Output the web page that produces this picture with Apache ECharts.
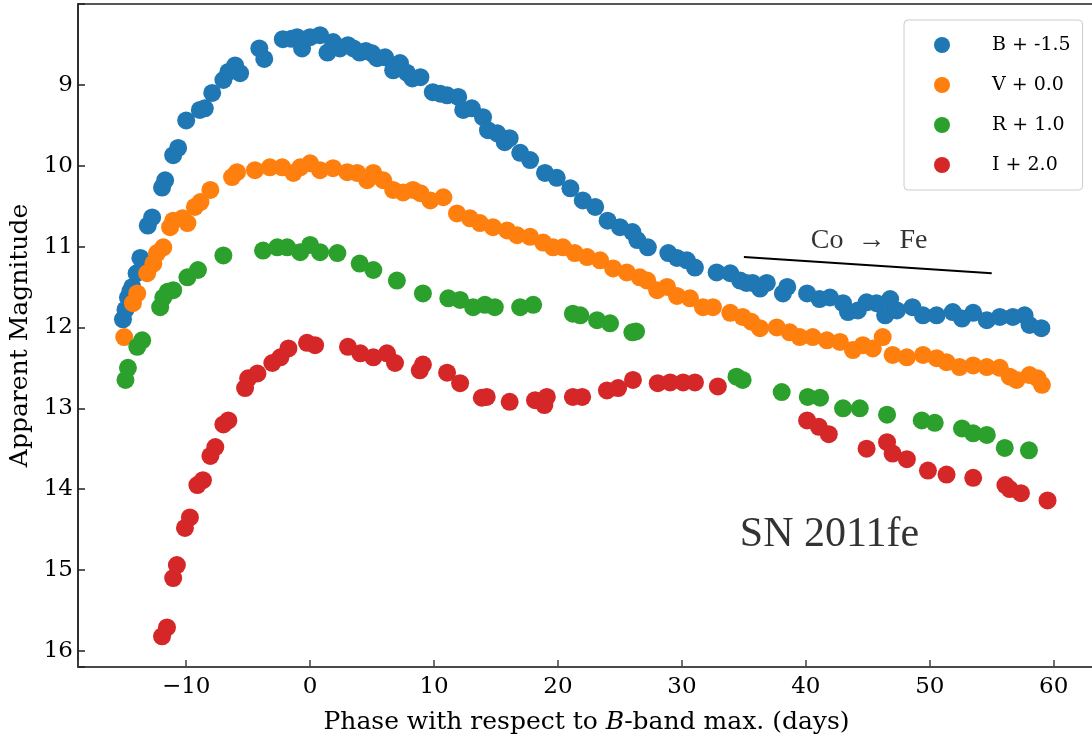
<!DOCTYPE html>
<html>
<head>
<meta charset="utf-8">
<script src="https://cdn.jsdelivr.net/npm/echarts@6/dist/echarts.min.js"></script>
<style>html,body{margin:0;padding:0;background:#fff}#c{width:1092px;height:739px}</style>
</head>
<body>
<div id="c"></div>
<script>
var seriesNames = ['B + -1.5', 'V + 0.0', 'R + 1.0', 'I + 2.0'];
var seriesColors = ['#1f77b4', '#ff7f0e', '#2ca02c', '#d62728'];

var bandB = [
[-15.1,11.90],[-14.9,11.78],[-14.7,11.63],[-14.5,11.55],[-14.35,11.50],[-14.0,11.33],[-13.7,11.14],
[-13.1,10.74],[-12.75,10.64],[-11.95,10.27],[-11.7,10.18],[-11.05,9.87],[-10.65,9.78],[-10.0,9.44],
[-8.9,9.31],[-8.5,9.29],[-7.9,9.10],[-7.0,8.94],[-6.6,8.84],[-6.05,8.76],[-5.65,8.855],[-4.1,8.55],[-3.7,8.68],
[-2.2,8.435],[-1.5,8.43],[-1.05,8.41],[-0.65,8.55],[0.0,8.41],[0.8,8.385],[1.4,8.60],[1.85,8.47],[2.4,8.55],
[3.05,8.51],[3.5,8.55],[4.0,8.60],[4.5,8.58],[5.0,8.61],[5.4,8.67],[6.05,8.66],[6.7,8.82],[7.25,8.73],
[7.8,8.85],[8.25,8.92],[8.9,8.905],[9.9,9.09],[10.5,9.11],[11.05,9.13],[11.95,9.15],[12.35,9.31],[13.05,9.29],
[13.95,9.40],[14.35,9.56],[15.1,9.60],[15.7,9.71],[16.1,9.66],[16.95,9.84],[17.75,9.93],[18.95,10.09],
[19.9,10.15],[21.0,10.28],[22.0,10.43],[23.0,10.51],[24.0,10.68],[25.0,10.76],[26.0,10.82],[26.4,10.92],
[27.25,11.01],[28.9,11.08],[29.6,11.14],[30.4,11.17],[31.05,11.26],[32.8,11.32],[33.9,11.33],[34.7,11.42],
[35.2,11.45],[35.7,11.45],[36.3,11.52],[36.85,11.45],[38.15,11.58],[38.5,11.50],[40.1,11.58],[41.1,11.65],
[41.95,11.63],[43.0,11.70],[43.4,11.81],[44.2,11.79],[44.9,11.69],[45.7,11.70],[46.4,11.85],[46.8,11.65],
[47.35,11.79],[48.6,11.75],[49.45,11.85],[50.55,11.85],[51.85,11.81],[52.6,11.89],[53.5,11.82],[54.6,11.91],
[55.65,11.87],[56.7,11.87],[57.65,11.85],[58.05,11.97],[59.0,12.01]
];

var bandV = [
[-15.0,12.12],[-14.3,11.70],[-13.95,11.58],[-13.15,11.33],[-12.65,11.21],[-12.35,11.08],[-11.85,11.01],
[-11.3,10.76],[-11.05,10.68],[-10.3,10.65],[-9.9,10.71],[-9.3,10.51],[-8.85,10.45],[-8.05,10.30],
[-6.3,10.14],[-5.9,10.08],[-4.45,10.055],[-3.25,10.02],[-2.25,10.02],[-1.35,10.09],[-0.8,10.02],[0.0,9.97],
[0.8,10.055],[1.85,10.03],[3.0,10.08],[3.8,10.09],[4.6,10.18],[5.1,10.09],[5.9,10.18],[6.7,10.30],[7.5,10.33],
[8.3,10.30],[8.9,10.34],[9.7,10.43],[10.75,10.39],[11.85,10.59],[12.9,10.65],[13.7,10.71],[14.75,10.76],
[15.9,10.80],[16.7,10.86],[17.75,10.88],[18.8,10.95],[19.6,11.01],[20.4,11.01],[21.35,11.08],[22.35,11.13],
[23.4,11.17],[24.45,11.27],[25.55,11.32],[26.6,11.38],[27.2,11.42],[28.0,11.54],[28.8,11.50],[29.6,11.61],
[30.65,11.64],[31.7,11.75],[32.5,11.75],[33.9,11.82],[34.9,11.87],[35.6,11.93],[36.3,12.01],[37.65,12.00],
[38.7,12.06],[39.5,12.12],[40.55,12.12],[41.7,12.16],[42.75,12.18],[43.8,12.28],[44.6,12.22],[45.4,12.26],
[46.2,12.12],[47.0,12.34],[48.15,12.37],[49.45,12.34],[50.55,12.38],[51.35,12.43],[52.4,12.49],[53.5,12.47],
[54.6,12.49],[55.65,12.50],[56.45,12.61],[57.0,12.65],[58.05,12.59],[58.7,12.63],[59.05,12.71]
];

var bandR = [
[-14.9,12.65],[-14.7,12.50],[-13.95,12.24],[-13.55,12.16],[-12.1,11.75],[-11.85,11.63],[-11.5,11.56],
[-11.05,11.54],[-9.9,11.38],[-9.05,11.29],[-7.0,11.11],[-3.8,11.05],[-2.65,11.01],[-1.85,11.01],[-0.8,11.07],
[0.0,10.98],[0.8,11.07],[2.2,11.08],[4.0,11.21],[5.1,11.29],[7.0,11.42],[9.1,11.58],[11.15,11.64],[12.1,11.66],
[13.15,11.75],[14.1,11.72],[14.9,11.75],[16.95,11.75],[18.0,11.72],[21.2,11.83],[21.8,11.85],[23.15,11.91],
[24.2,11.95],[26.0,12.06],[26.3,12.05],[34.4,12.61],[34.9,12.65],[38.05,12.80],[40.15,12.86],[41.15,12.87],
[43.0,13.00],[44.35,13.00],[46.55,13.08],[49.35,13.15],[50.4,13.18],[52.6,13.25],[53.5,13.31],[54.6,13.33],
[56.05,13.49],[58.0,13.52]
];

var bandI = [
[-11.95,15.82],[-11.55,15.71],[-11.05,15.10],[-10.75,14.94],[-10.1,14.48],[-9.7,14.35],[-9.1,13.95],
[-8.65,13.89],[-8.05,13.59],[-7.65,13.48],[-7.0,13.20],[-6.6,13.15],[-5.25,12.75],[-5.0,12.63],[-4.25,12.57],
[-3.05,12.44],[-2.4,12.37],[-1.75,12.26],[-0.25,12.19],[0.4,12.22],[3.05,12.24],[4.05,12.32],[5.1,12.37],
[6.2,12.32],[6.85,12.44],[8.85,12.53],[9.1,12.46],[11.05,12.56],[12.1,12.69],[13.85,12.87],[14.25,12.86],
[16.1,12.92],[18.15,12.90],[18.9,12.96],[19.1,12.86],[21.2,12.86],[21.95,12.86],[23.95,12.78],[24.85,12.75],
[26.05,12.65],[28.05,12.69],[29.05,12.68],[30.1,12.68],[31.05,12.68],[32.9,12.73],[40.1,13.15],[41.05,13.23],
[41.85,13.32],[44.9,13.50],[46.55,13.42],[47.0,13.56],[48.15,13.63],[49.85,13.77],[51.35,13.82],[53.5,13.86],
[56.1,13.95],[56.45,14.00],[57.35,14.05],[59.5,14.14]
];

var decayLine = [[35, 11.13], [55, 11.33]];
var decayLabel = [[45.1, 10.93]];
var snLabel = [[41.9, 14.57]];

var FONT = 'DejaVu Serif';
var FONT2 = 'Liberation Serif';
var chart = echarts.init(document.getElementById('c'), null, {renderer: 'canvas'});
var bands = [bandB, bandV, bandR, bandI];
var series = bands.map(function (d, i) {
  return {
    name: seriesNames[i], type: 'scatter', data: d, symbol: 'circle', symbolSize: 18,
    itemStyle: {color: seriesColors[i], opacity: 1}, z: 2 + i
  };
});
series.push({
  name: 'decay', type: 'line', data: decayLine, symbol: 'none', silent: true,
  lineStyle: {color: '#000', width: 2}, z: 10
});
series.push({
  name: 'decayText', type: 'scatter', data: decayLabel, symbolSize: 0, silent: true,
  label: {show: true, position: 'inside', formatter: 'Co  \u2192  Fe', color: '#000',
    textBorderWidth: 0, fontFamily: FONT2, fontSize: 28}, z: 10
});
series.push({
  name: 'snText', type: 'scatter', data: snLabel, symbolSize: 0, silent: true,
  label: {show: true, position: 'inside', formatter: 'SN 2011fe', color: '#000',
    textBorderWidth: 0, fontFamily: FONT2, fontSize: 42}, z: 10
});

chart.setOption({
  animation: false,
  backgroundColor: '#fff',
  grid: {left: 78, top: 4, width: 1017, bottom: 72, containLabel: false, outerBoundsMode: 'none',
    show: true, borderColor: '#222', borderWidth: 1.5, backgroundColor: 'transparent'},
  legend: {
    data: seriesNames, orient: 'vertical', left: 904, top: 20,
    padding: [15, 12, 15, 30], itemGap: 20, itemWidth: 16, itemHeight: 16, icon: 'circle',
    backgroundColor: '#fff', borderColor: '#ccc', borderWidth: 1, borderRadius: 4,
    textStyle: {fontFamily: FONT, fontSize: 19, color: '#000', lineHeight: 20, padding: [0, 0, 0, 37]}
  },
  xAxis: {
    type: 'value', min: -18.73, max: 63.33, splitNumber: 8,
    axisLine: {show: true, onZero: false, lineStyle: {color: '#444', width: 1.5}},
    axisTick: {show: true, inside: true, length: 7, lineStyle: {color: '#444', width: 1.5}},
    splitLine: {show: false},
    axisLabel: {fontFamily: FONT, fontSize: 23, color: '#000', margin: 9,
      formatter: function (v) { return Math.abs(v / 10 - Math.round(v / 10)) < 1e-6 ? String(Math.round(v)).replace('-', '\u2212') : ''; }},
    name: 'Phase with respect to {i|B}-band max. (days)', nameLocation: 'middle', nameGap: 43,
    nameTextStyle: {fontFamily: FONT, fontSize: 25, color: '#000',
      rich: {i: {fontFamily: FONT, fontStyle: 'italic', fontSize: 25, color: '#000'}}}
  },
  yAxis: {
    type: 'value', min: 8, max: 16.2, interval: 1, inverse: true,
    axisLine: {show: true, onZero: false, lineStyle: {color: '#222', width: 1.5}},
    axisTick: {show: true, inside: true, length: 7, lineStyle: {color: '#222', width: 1.5}},
    splitLine: {show: false},
    axisLabel: {fontFamily: FONT, fontSize: 23, color: '#000', margin: 5, padding: [8, 0, 0, 0],
      formatter: function (v) { return (Math.abs(v - Math.round(v)) < 1e-6 && v >= 9 && v <= 16) ? String(v) : ''; }},
    name: 'Apparent Magnitude', nameLocation: 'middle', nameGap: 37,
    nameTextStyle: {fontFamily: FONT, fontSize: 25, color: '#000'}
  },
  series: series
});
</script>
</body>
</html>
